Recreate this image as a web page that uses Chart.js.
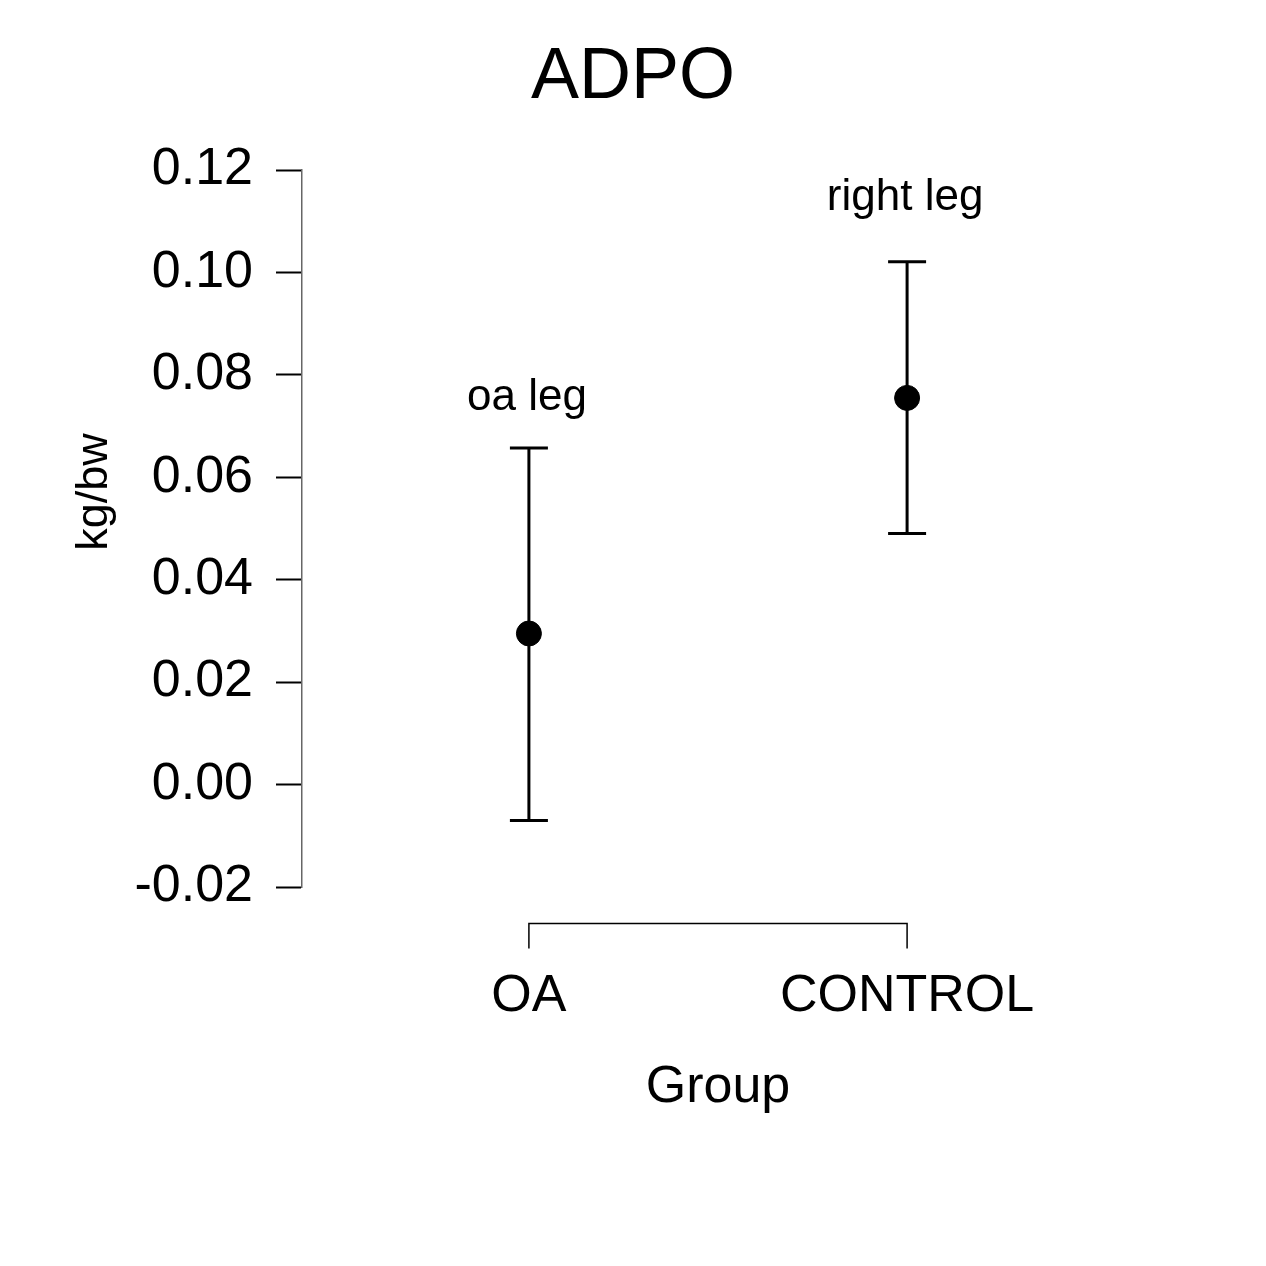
<!DOCTYPE html>
<html>
<head>
<meta charset="utf-8">
<script src="https://cdn.jsdelivr.net/npm/chart.js@4"></script>
<style>
  html, body { margin: 0; padding: 0; background: #fff; }
  #wrap { width: 1266px; height: 1266px; }
</style>
</head>
<body>
<div id="wrap"><canvas id="adpo"></canvas></div>
<script>
let groups = ["OA", "CONTROL"];
let groupPos = [1, 2];
let means = [0.0295, 0.0755];
let lower = [-0.0070, 0.0490];
let upper = [0.0657, 0.1021];
let legNames = ["oa leg", "right leg"];
let legLabelAt = [0.0732, 0.1122];
let yTicks = [-0.02, 0, 0.02, 0.04, 0.06, 0.08, 0.1, 0.12];

let fontFam = "'Liberation Sans', Arial, Helvetica, sans-serif";

// error bars, leg labels, y label and the R-style x bracket
let errorBars = {
  id: "errorBars",
  afterDatasetsDraw(chart) {
    let c = chart.ctx;
    let xs = chart.scales.x;
    let ys = chart.scales.y;
    c.save();
    c.strokeStyle = "#000";
    c.lineWidth = 3;
    for (let i = 0; i < groups.length; i++) {
      let px = xs.getPixelForValue(groupPos[i]);
      let top = ys.getPixelForValue(upper[i]);
      let bot = ys.getPixelForValue(lower[i]);
      c.beginPath();
      c.moveTo(px, top);
      c.lineTo(px, bot);
      c.moveTo(px - 19, top);
      c.lineTo(px + 19, top);
      c.moveTo(px - 19, bot);
      c.lineTo(px + 19, bot);
      c.stroke();

      c.fillStyle = "#000";
      c.font = "44px " + fontFam;
      c.textAlign = "center";
      c.textBaseline = "alphabetic";
      c.fillText(legNames[i], px - 2, ys.getPixelForValue(legLabelAt[i]));
    }

    // y label
    c.save();
    c.translate(95, 492);
    c.rotate(-Math.PI / 2);
    c.font = "45px " + fontFam;
    c.textAlign = "center";
    c.textBaseline = "middle";
    c.fillText("kg/bw", 0, 0);
    c.restore();

    // x axis bracket
    let x1 = xs.getPixelForValue(groupPos[0]);
    let x2 = xs.getPixelForValue(groupPos[groupPos.length - 1]);
    let yb = chart.chartArea.bottom + 36.5;
    c.lineWidth = 1.5;
    c.beginPath();
    c.moveTo(x1, yb + 25);
    c.lineTo(x1, yb);
    c.lineTo(x2, yb);
    c.lineTo(x2, yb + 25);
    c.stroke();
    c.restore();
  },
};

let chart = new Chart(document.getElementById("adpo").getContext("2d"), {
  type: "scatter",
  data: {
    datasets: [
      {
        data: groupPos.map((g, i) => ({ x: g, y: means[i] })),
        backgroundColor: "#000",
        borderColor: "#000",
        pointRadius: 12.5,
        pointHoverRadius: 12.5,
      },
    ],
  },
  options: {
    responsive: true,
    maintainAspectRatio: false,
    animation: false,
    layout: {
      padding: 0,
    },
    plugins: {
      legend: { display: false },
      tooltip: { enabled: false },
      title: {
        display: true,
        text: "ADPO",
        color: "#000",
        font: { family: fontFam, size: 72, weight: "normal" },
        padding: { top: 35, bottom: 48.6 },
      },
    },
    scales: {
      x: {
        type: "linear",
        min: 0.4,
        max: 2.6,
        afterBuildTicks: (scale) => {
          scale.ticks = groupPos.map((v) => ({ value: v }));
        },
        afterFit: (scale) => {
          scale.height = 379;
        },
        grid: { display: false, drawTicks: false },
        border: { display: false },
        ticks: {
          color: "#000",
          padding: 78,
          font: { family: fontFam, size: 52 },
          callback: (v) => groups[groupPos.indexOf(v)] || "",
        },
        title: {
          display: true,
          text: "Group",
          color: "#000",
          font: { family: fontFam, size: 52 },
          padding: { top: 0, bottom: 147 },
        },
      },
      y: {
        min: -0.02,
        max: 0.12,
        afterBuildTicks: (scale) => {
          scale.ticks = yTicks.map((v) => ({ value: v }));
        },
        afterFit: (scale) => {
          scale.width = 302;
        },
        grid: {
          drawOnChartArea: false,
          drawTicks: true,
          tickLength: 26,
          tickColor: "#000",
          tickWidth: 2,
        },
        border: { display: true, color: "#666", width: 1.5 },
        ticks: {
          color: "#000",
          padding: 23,
          font: { family: fontFam, size: 52 },
          callback: (v) => v.toFixed(2),
        },
      },
      // empty right margin so the plot ends where R's plot region does
      pad: {
        type: "linear",
        position: "right",
        display: true,
        afterFit: (scale) => {
          scale.width = 132;
        },
        grid: { display: false, drawTicks: false },
        border: { display: false },
        ticks: { display: false },
      },
    },
  },
  plugins: [errorBars],
});
</script>
</body>
</html>
